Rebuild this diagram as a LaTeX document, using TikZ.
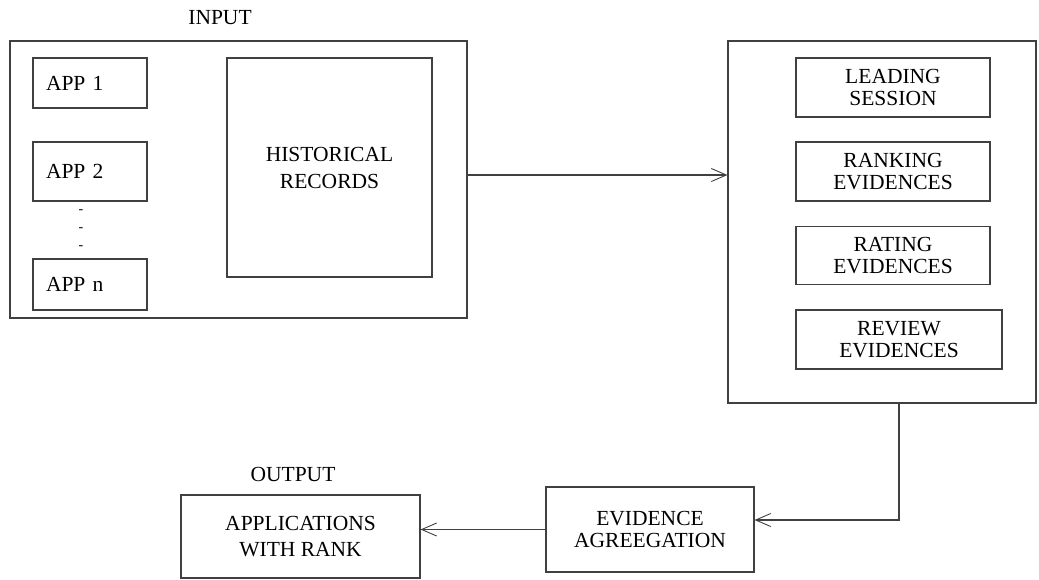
\documentclass[tikz,border=0pt]{standalone}
\usepackage{fontspec}
\setmainfont{Liberation Serif}
\usepackage{tikz}
\usetikzlibrary{arrows.meta}

\begin{document}
\begin{tikzpicture}[x=1pt,y=-1pt,
		box/.style={draw=black!75, line width=1.1pt, inner sep=0pt, align=center, font=\fontsize{21.5}{22}\selectfont},
		appbox/.style={box, align=left, text width=88pt, inner xsep=13pt, minimum width=114pt},
		arr/.style={draw=black!75, line width=1.1pt, -{Straight Barb[length=15pt,width=13pt,line width=0.9pt]}},
		title/.style={font=\fontsize{21.5}{21}\selectfont},
		vdot/.style={inner sep=0pt, font=\fontsize{14}{14}\selectfont}]
				\useasboundingbox (0,0) rectangle (1039,579);
				%%%nodes
				%input side
				\node[title] at (220,18) (INP){INPUT};
				\node[box, minimum width=457pt, minimum height=277pt] at (238.5,179.5) (inp){};
				\node[appbox, minimum height=50pt] at (90,83) (app1){APP 1};
				\node[appbox, minimum height=59pt] at (90,171.5) (app2){APP 2};
				\node[appbox, minimum height=51pt] at (90,284.5) (appn){APP n};
				\node[vdot] at (81,212) (dot1){-};
				\node[vdot] at (81,230) (dot2){-};
				\node[vdot] at (81,248) (dot3){-};
				\node[box, minimum width=205pt, minimum height=219pt, font=\fontsize{21.5}{27}\selectfont] at (329.5,167.5) (hist){HISTORICAL\\RECORDS};
				%evidence side
				\node[box, minimum width=308pt, minimum height=362pt] at (882,222) (proc){};
				\node[box, minimum width=194pt, minimum height=59pt] at (893,87.5) (lead){LEADING\\SESSION};
				\node[box, minimum width=194pt, minimum height=59pt] at (893,171.5) (rank){RANKING\\EVIDENCES};
				\node[box, minimum width=194pt, minimum height=58pt] at (893,255.5) (rate){RATING\\EVIDENCES};
				\node[box, minimum width=206pt, minimum height=59pt] at (899,339.5) (rev){REVIEW\\EVIDENCES};
				%output side
				\node[box, minimum width=208pt, minimum height=85pt] at (650,529.5) (agg){EVIDENCE\\AGREEGATION};
				\node[box, minimum width=239pt, minimum height=83pt, font=\fontsize{21.5}{26}\selectfont] at (300.5,536.5) (out){APPLICATIONS\\WITH RANK};
				\node[title] at (293,474) (OUT){OUTPUT};
				%%%links
				\draw[arr] ([yshift=4.5pt]inp.east) -- ([yshift=4.5pt]inp.east -| proc.west);
				\draw[arr] ([xshift=17pt]proc.south) |- ([yshift=9.5pt]agg.east);
				\draw[arr] (agg.west) -- (agg.west -| out.east);
\end{tikzpicture}
\end{document}
